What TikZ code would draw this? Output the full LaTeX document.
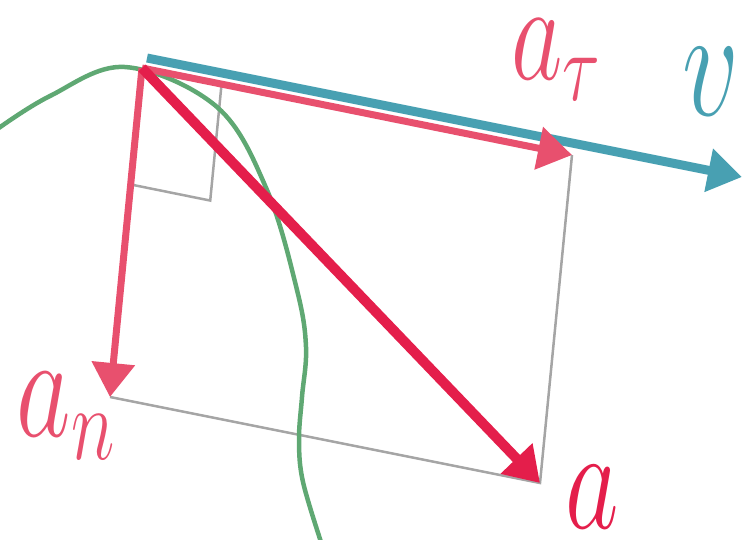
\RequirePackage{fix-cm}
\documentclass[tikz,border=0pt]{standalone}
\usepackage{tikz}
\usetikzlibrary{arrows.meta, calc}
\definecolor{velteal}{RGB}{72,160,178}
\definecolor{comppink}{RGB}{232,80,110}
\definecolor{accred}{RGB}{228,30,75}
\definecolor{pathgreen}{RGB}{95,168,115}
\definecolor{guidegray}{RGB}{165,165,165}
\newcommand{\stretched}[1]{\scalebox{1}[1.4]{#1}}

\begin{document}
\begin{tikzpicture}[
  x=1pt, y=-1pt,
  head/.style={-{Triangle[length=34pt, width=42pt]}},
  vel/.style={head, line width=9pt, draw=velteal},
  comp/.style={head, line width=7pt, draw=comppink},
  acc/.style={head, line width=10pt, draw=accred},
  guide/.style={line width=2.5pt, draw=guidegray},
  lbl/.style={inner sep=0pt}
]
  \useasboundingbox (0,0) rectangle (743,539);
  % points of the decomposition
  \coordinate (O) at (142,68);
  \coordinate (At) at (572,155);
  \coordinate (An) at (110,397);
  \coordinate (A) at (540,483);
  \coordinate (vs) at (147,58);
  \coordinate (ve) at (742,177);
  % rectangle and right angle
  \draw[guide] (An) -- (A) -- (At);
  \coordinate (mn) at ($(O)!0.354!(An)$);
  \coordinate (mt) at ($(O)!0.185!(At)$);
  \draw[guide] (mn) -- ($(mn)+(mt)-(O)$) -- (mt);
  % trajectory
  \draw[line width=4.5pt, pathgreen] plot[smooth, tension=0.6] coordinates
    {(-4,130) (50,96) (125,67) (217,107) (267,190) (297,290) (306,347)
     (302,397) (299,440) (303,482) (322,545)};
  \draw[vel] (vs) -- (ve);
  \draw[comp] (O) -- (At);
  \draw[comp] (O) -- (An);
  \draw[acc] (O) -- (A);
  % labels
  \node[lbl, comppink, font=\fontsize{100}{100}\selectfont] (lat) at (556,60) {\stretched{$a_{\tau}$}};
  \node[lbl, velteal, font=\fontsize{112}{112}\selectfont] (lv) at (711,82) {\stretched{$v$}};
  \node[lbl, comppink, font=\fontsize{106}{106}\selectfont] (lan) at (66,416) {\stretched{$a_{n}$}};
  \node[lbl, accred, font=\fontsize{104}{104}\selectfont] (la) at (592,497) {\stretched{$a$}};
\end{tikzpicture}
\end{document}
